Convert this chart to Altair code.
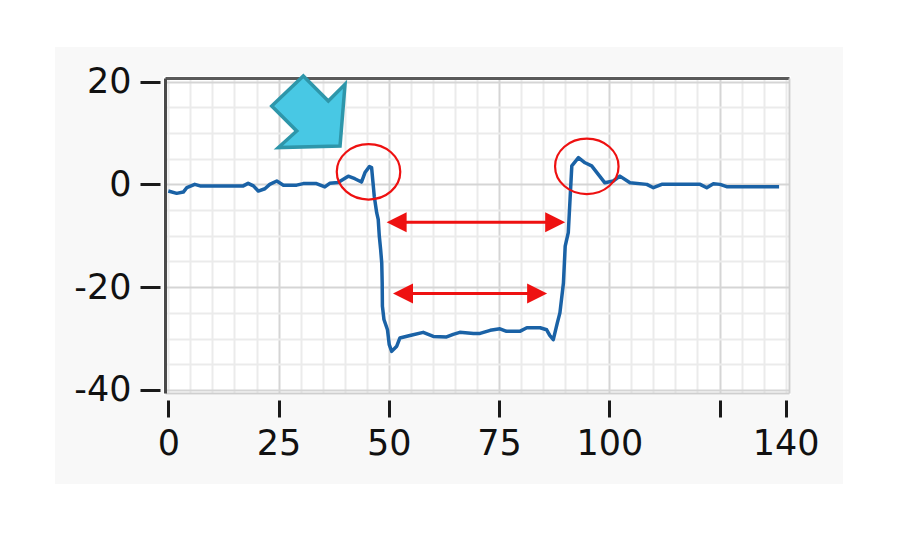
import altair as alt
import pandas as pd

# ---- data ----
t_vals = [0, 1.9, 3.4, 4.2, 6.0, 7.2, 17.0, 18.1, 19.3, 20.4, 21.9, 23.0, 24.6, 26.1,
          29.1, 30.6, 33.6, 35.5, 36.6, 38.5, 40.8, 42.3, 43.8, 44.6, 45.6, 46.1, 46.4,
          46.7, 47.25, 47.6, 47.85, 48.15, 48.4, 48.5, 48.55, 48.9, 49.7, 50.1, 50.65,
          51.8, 52.5, 54.8, 57.8, 60.1, 63.1, 64.6, 66.1, 69.2, 70.7, 73.0, 75.2, 76.7,
          79.7, 81.3, 84.3, 85.8, 86.5, 87.3, 88.2, 88.8, 89.6, 90.0, 90.7, 91.1, 91.5,
          93.0, 94.5, 96.0, 97.5, 99.0, 100.9, 102.4, 104.7, 108.5, 110.0, 111.9, 120.6,
          122.1, 123.6, 125.1, 126.6, 138.5]
v_vals = [-1.3, -1.75, -1.5, -0.65, 0.0, -0.3, -0.3, 0.2, -0.3, -1.3, -0.85, 0.0, 0.65, -0.15,
          -0.15, 0.15, 0.15, -0.5, 0.2, 0.35, 1.6, 1.1, 0.45, 2.3, 3.45, 3.25, 0.5,
          -2.3, -5.5, -6.8, -10.1, -12.7, -15.3, -19.2, -23.7, -26.3, -28.3, -31.2, -32.5,
          -31.5, -29.9, -29.4, -28.8, -29.6, -29.7, -29.2, -28.8, -29.0, -29.0, -28.4, -28.1, -28.6,
          -28.6, -27.9, -27.9, -28.3, -29.4, -30.2, -27.0, -25.0, -19.2, -12.0, -9.4, -2.9, 3.6,
          5.2, 4.2, 3.6, 1.95, 0.3, 0.65, 1.6, 0.3, 0.0, -0.65, 0.0, 0.0,
          -0.65, 0.1, 0.0, -0.45, -0.45]

x_ticks = [0, 25, 50, 75, 100, 125, 140]
y_ticks = [-40, -20, 0, 20]
x_grid = list(range(0, 141, 5))
y_grid = list(range(-40, 21, 5))

# annotations (data coordinates)
ellipse_x = [45.4, 94.9]
ellipse_y = [2.44, 3.5]
arrow_start = [49.5, 50.95]
arrow_end = [90.0, 85.9]
arrow_y = [-7.35, -21.25]
pointer_x = [31.75]
pointer_y = [14.13]

# ---- styles ----
BLUE = "#1a62a6"
RED = "#ee1111"
PANEL = "#f8f8f8"
FONT = "DejaVu Sans"
W, H = 624, 315

XS = alt.Scale(domain=[-0.75, 140.75], nice=False, zero=False)
YS = alt.Scale(domain=[-40.6, 20.7], nice=False, zero=False)

FRAME_PATH = ("M -0.844 -0.377 L 0.732 -0.377 L 0.732 0.497 L -0.844 0.497 Z "
              "M -0.628 -0.319 L -0.628 0.319 L 0.628 0.319 L 0.628 -0.319 Z")
ELLIPSE = ("M 1 0 C 1 0.482 0.552 0.873 0 0.873 C -0.552 0.873 -1 0.482 -1 0 "
           "C -1 -0.482 -0.552 -0.873 0 -0.873 C 0.552 -0.873 1 -0.482 1 0 Z")
HEAD_LEFT = "M 0 0 L 1 -0.5 L 1 0.5 Z"
HEAD_RIGHT = "M 0 0 L -1 -0.5 L -1 0.5 Z"
POINTER = ("M -0.136 -0.975 L 0.545 -0.294 L 1.0 -0.749 L 0.864 0.932 "
           "L -0.817 0.975 L -0.316 0.523 L -0.997 -0.158 Z")

line_df = pd.DataFrame({"t": t_vals, "v": v_vals, "i": list(range(len(t_vals)))})
arr_df = pd.DataFrame({"x1": arrow_start, "x2": arrow_end, "y": arrow_y})
ell_df = pd.DataFrame({"x": ellipse_x, "y": ellipse_y})
ptr_df = pd.DataFrame({"x": pointer_x, "y": pointer_y})

frame = alt.Chart(pd.DataFrame({"a": [0]})).mark_point(
    shape=FRAME_PATH, size=1000000, filled=True, fill=PANEL, strokeWidth=0, opacity=1
).encode(x=alt.value(W / 2), y=alt.value(H / 2))

grid_x_axis = alt.Axis(
    orient="bottom", values=x_grid, grid=True,
    gridColor={"condition": {"test": "datum.value % 25 === 0 && datum.value > 0 && datum.value < 140",
                             "value": "#d5d5d5"}, "value": "#ebebeb"},
    gridWidth=2, labels=False, ticks=False, domain=True, domainColor="#cfcfcf",
    domainWidth=2, title=None, zindex=0)
grid_y_axis = alt.Axis(
    orient="left", values=y_grid, grid=True,
    gridColor={"condition": {"test": "datum.value % 20 === 0", "value": "#d5d5d5"},
               "value": "#ebebeb"},
    gridWidth=2, labels=False, ticks=False, domain=True, domainColor="#4a4a4a",
    domainWidth=3, title=None, zindex=0)

line = alt.Chart(line_df).mark_line(color=BLUE, strokeWidth=3.5, strokeJoin="round").encode(
    x=alt.X("t:Q", scale=XS, axis=grid_x_axis),
    y=alt.Y("v:Q", scale=YS, axis=grid_y_axis),
    order="i:Q",
)

label_x_axis = alt.Axis(
    orient="bottom", values=x_ticks,
    labelExpr="datum.value === 125 ? '' : toString(datum.value)",
    grid=False, domain=False, ticks=True, tickSize=17, tickWidth=3, tickColor="#1a1a1a",
    offset=7, labelFont=FONT, labelFontSize=35, labelColor="#111111", labelPadding=9,
    labelFlush=False, labelOverlap=False, title=None, zindex=1)
label_y_axis = alt.Axis(
    orient="left", values=y_ticks, labelExpr="toString(datum.value)",
    grid=False, domain=False, ticks=True, tickSize=20, tickWidth=3, tickColor="#1a1a1a",
    offset=5, labelFont=FONT, labelFontSize=35, labelColor="#111111", labelPadding=9,
    labelFlush=False, labelOverlap=False, title=None, zindex=1)

rules = alt.Chart(arr_df).mark_rule(color=RED, strokeWidth=3, xOffset=12, x2Offset=-12).encode(
    x=alt.X("x1:Q", scale=XS, axis=label_x_axis),
    x2="x2:Q",
    y=alt.Y("y:Q", scale=YS, axis=label_y_axis),
)

heads_l = alt.Chart(arr_df).mark_point(
    shape=HEAD_LEFT, size=1600, filled=True, fill=RED, strokeWidth=0, opacity=1
).encode(x=alt.X("x1:Q", scale=XS, axis=None), y=alt.Y("y:Q", scale=YS, axis=None))

heads_r = alt.Chart(arr_df).mark_point(
    shape=HEAD_RIGHT, size=1600, filled=True, fill=RED, strokeWidth=0, opacity=1
).encode(x=alt.X("x2:Q", scale=XS, axis=None), y=alt.Y("y:Q", scale=YS, axis=None))

top_axis = alt.Axis(orient="top", grid=False, labels=False, ticks=False, domain=True,
                    domainColor="#5a5a5a", domainWidth=3, title=None, zindex=0)
right_axis = alt.Axis(orient="right", grid=False, labels=False, ticks=False, domain=True,
                      domainColor="#cfcfcf", domainWidth=2, title=None, zindex=0)

ellipses = alt.Chart(ell_df).mark_point(
    shape=ELLIPSE, size=4032, filled=False, stroke=RED, strokeWidth=2.2, opacity=1
).encode(x=alt.X("x:Q", scale=XS, axis=top_axis), y=alt.Y("y:Q", scale=YS, axis=right_axis))

pointer = alt.Chart(ptr_df).mark_point(
    shape=POINTER, size=5388, filled=True, fill="#48c8e4", stroke="#2e96aa",
    strokeWidth=3.5, strokeJoin="miter", opacity=1
).encode(x=alt.X("x:Q", scale=XS, axis=None), y=alt.Y("y:Q", scale=YS, axis=None))

chart = alt.layer(frame, line, rules, heads_l, heads_r, ellipses, pointer).resolve_axis(
    x="independent", y="independent"
).properties(
    width=W, height=H,
    autosize=alt.AutoSizeParams(type="none"),
    padding={"left": 157, "top": 70, "right": 90, "bottom": 140},
    background="white",
).configure_view(stroke=None, fill="white")

chart.save("out.html", embed_options={"renderer": "svg", "actions": False})
